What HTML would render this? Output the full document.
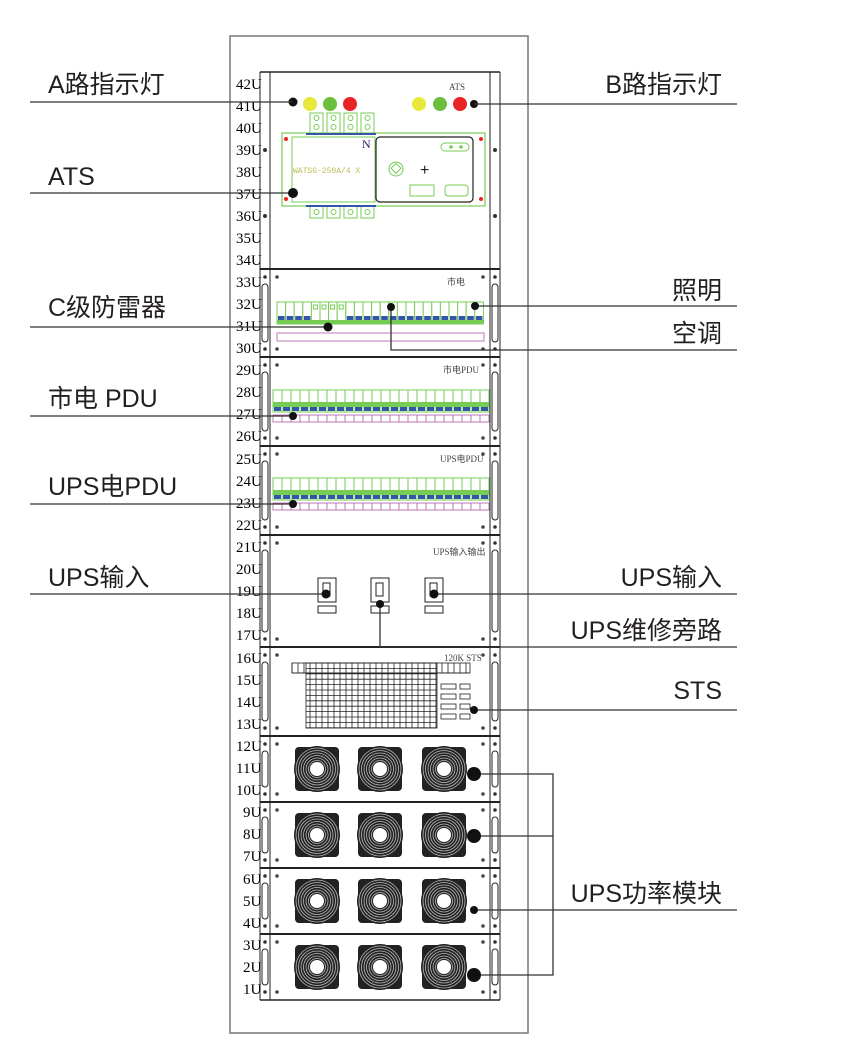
<!DOCTYPE html>
<html><head><meta charset="utf-8">
<style>
html,body{margin:0;padding:0;background:#fff;}
svg{display:block;}
.lbl{font-family:"Liberation Sans","Noto Sans CJK SC",sans-serif;font-size:25px;fill:#231f20;}
.u{font-family:"Liberation Serif","Noto Serif CJK SC",serif;font-size:15px;fill:#000;}
.sm{font-family:"Liberation Serif","Noto Sans CJK SC",serif;font-size:9px;fill:#444;}
</style></head><body>
<svg id="s" width="844" height="1042" viewBox="0 0 844 1042" xmlns="http://www.w3.org/2000/svg">
<rect x="230" y="36" width="298" height="997" fill="none" stroke="#777" stroke-width="1.5"/>
<g id="rack" stroke="#222" fill="none" stroke-width="1">
<line x1="260" y1="72" x2="260" y2="1000"/><line x1="270" y1="72" x2="270" y2="1000"/>
<line x1="490" y1="72" x2="490" y2="1000"/><line x1="500" y1="72" x2="500" y2="1000"/>
<line x1="260" y1="72" x2="500" y2="72" stroke-width="1.5"/>
<line x1="260" y1="1000" x2="500" y2="1000" stroke-width="1.5"/>
<line x1="260" y1="269" x2="500" y2="269" stroke-width="2"/>
<line x1="260" y1="357" x2="500" y2="357" stroke-width="2"/>
<line x1="260" y1="446" x2="500" y2="446" stroke-width="2"/>
<line x1="260" y1="535" x2="500" y2="535" stroke-width="2"/>
<line x1="260" y1="647" x2="500" y2="647" stroke-width="2"/>
<line x1="260" y1="736" x2="500" y2="736" stroke-width="2"/>
<line x1="260" y1="802" x2="500" y2="802" stroke-width="2"/>
<line x1="260" y1="868" x2="500" y2="868" stroke-width="2"/>
<line x1="260" y1="934" x2="500" y2="934" stroke-width="2"/>
</g>
<g id="ul">
<text class="u" x="236" y="89">42U</text><text class="u" x="236" y="111">41U</text><text class="u" x="236" y="133">40U</text>
<text class="u" x="236" y="155">39U</text><text class="u" x="236" y="177">38U</text><text class="u" x="236" y="199">37U</text>
<text class="u" x="236" y="221">36U</text><text class="u" x="236" y="243">35U</text><text class="u" x="236" y="265">34U</text>
<text class="u" x="236" y="287">33U</text><text class="u" x="236" y="309">32U</text><text class="u" x="236" y="331">31U</text>
<text class="u" x="236" y="353">30U</text><text class="u" x="236" y="375">29U</text><text class="u" x="236" y="397">28U</text>
<text class="u" x="236" y="419">27U</text><text class="u" x="236" y="441">26U</text><text class="u" x="236" y="464">25U</text>
<text class="u" x="236" y="486">24U</text><text class="u" x="236" y="508">23U</text><text class="u" x="236" y="530">22U</text>
<text class="u" x="236" y="552">21U</text><text class="u" x="236" y="574">20U</text><text class="u" x="236" y="596">19U</text>
<text class="u" x="236" y="618">18U</text><text class="u" x="236" y="640">17U</text><text class="u" x="236" y="663">16U</text>
<text class="u" x="236" y="685">15U</text><text class="u" x="236" y="707">14U</text><text class="u" x="236" y="729">13U</text>
<text class="u" x="236" y="751">12U</text><text class="u" x="236" y="773">11U</text><text class="u" x="236" y="795">10U</text>
<text class="u" x="243" y="817">9U</text><text class="u" x="243" y="839">8U</text><text class="u" x="243" y="861">7U</text>
<text class="u" x="243" y="884">6U</text><text class="u" x="243" y="906">5U</text><text class="u" x="243" y="928">4U</text>
<text class="u" x="243" y="950">3U</text><text class="u" x="243" y="972">2U</text><text class="u" x="243" y="994">1U</text>
</g>
<!-- ATS panel -->
<text class="sm" x="449" y="90">ATS</text>
<rect x="282" y="133" width="203" height="73" fill="none" stroke="#7c5" stroke-width="1.2"/>
<rect x="292" y="137" width="83" height="65" fill="none" stroke="#7c5"/>
<rect x="376" y="137" width="97" height="65" rx="4" fill="none" stroke="#222" stroke-width="1.2"/>
<rect x="441" y="143" width="28" height="8" rx="4" fill="none" stroke="#7c5"/>
<circle cx="451" cy="147" r="1.8" fill="#7c5"/><circle cx="461" cy="147" r="1.8" fill="#7c5"/>
<circle cx="396" cy="169" r="7" fill="none" stroke="#7c5"/>
<rect x="392" y="165" width="7" height="7" transform="rotate(45 396 169)" fill="none" stroke="#7c5"/>
<text x="420" y="175" font-size="16" font-family="Liberation Sans" fill="#222">+</text>
<rect x="410" y="185" width="24" height="11" fill="none" stroke="#7c5"/>
<rect x="445" y="185" width="23" height="11" rx="3" fill="none" stroke="#7c5"/>
<text x="293" y="173" font-size="8" font-family="Liberation Mono" fill="#bb5">WATSG-250A/4 X</text>
<text x="362" y="148" font-size="12" font-family="Liberation Serif" fill="#225">N</text>
<circle cx="286" cy="139" r="2" fill="#e22"/><circle cx="286" cy="199" r="2" fill="#e22"/>
<circle cx="481" cy="139" r="2" fill="#e22"/><circle cx="481" cy="199" r="2" fill="#e22"/>
<!-- lights -->
<circle cx="293" cy="102" r="4.5" fill="#111"/>
<circle cx="310" cy="104" r="7" fill="#e8e83a"/><circle cx="330" cy="104" r="7" fill="#6cbf3c"/><circle cx="350" cy="104" r="7" fill="#e82424"/>
<circle cx="419" cy="104" r="7" fill="#e8e83a"/><circle cx="440" cy="104" r="7" fill="#6cbf3c"/><circle cx="460" cy="104" r="7" fill="#e82424"/>
<circle cx="474" cy="104" r="4" fill="#111"/>
<!-- panel titles -->
<text class="sm" x="447" y="285">市电</text>
<text class="sm" x="443" y="373">市电PDU</text>
<text class="sm" x="440" y="462">UPS电PDU</text>
<text class="sm" x="433" y="555">UPS输入输出</text>
<text class="sm" x="444" y="661">120K STS</text>
<g id="gen"></g>
<!-- UPS input switches -->
<g fill="none" stroke="#222">
<rect x="318" y="578" width="18" height="24"/><rect x="323" y="583" width="7" height="13"/><rect x="318" y="606" width="18" height="7"/>
<rect x="371" y="578" width="18" height="24"/><rect x="376" y="583" width="7" height="13"/><rect x="371" y="606" width="18" height="7"/>
<rect x="425" y="578" width="18" height="24"/><rect x="430" y="583" width="7" height="13"/><rect x="425" y="606" width="18" height="7"/>
</g>
<!-- connectors -->
<g stroke="#333" stroke-width="1.3" fill="none">
<line x1="30" y1="102" x2="293" y2="102"/>
<line x1="30" y1="193" x2="293" y2="193"/>
<line x1="30" y1="327" x2="328" y2="327"/>
<line x1="30" y1="416" x2="293" y2="416"/>
<line x1="30" y1="504" x2="293" y2="504"/>
<line x1="30" y1="594" x2="326" y2="594"/>
<line x1="474" y1="104" x2="737" y2="104"/>
<line x1="475" y1="306" x2="737" y2="306"/>
<polyline points="391,308 391,350 737,350"/>
<line x1="434" y1="594" x2="737" y2="594"/>
<polyline points="380,604 380,647 737,647"/>
<line x1="474" y1="710" x2="737" y2="710"/>
<polyline points="474,774 553,774 553,975 474,975"/>
<line x1="474" y1="836" x2="553" y2="836"/>
<line x1="474" y1="910" x2="737" y2="910"/>
</g>
<g fill="#111">
<circle cx="293" cy="193" r="5"/><circle cx="328" cy="327" r="4.5"/><circle cx="293" cy="416" r="4"/>
<circle cx="293" cy="504" r="4"/><circle cx="326" cy="594" r="4.5"/><circle cx="434" cy="594" r="4.5"/>
<circle cx="380" cy="604" r="4"/><circle cx="475" cy="306" r="4"/><circle cx="391" cy="307" r="4"/>
<circle cx="474" cy="710" r="4"/><circle cx="474" cy="774" r="7"/><circle cx="474" cy="836" r="7"/>
<circle cx="474" cy="910" r="4"/><circle cx="474" cy="975" r="7"/>
</g>
<!-- labels -->
<text class="lbl" x="48" y="93">A路指示灯</text>
<text class="lbl" x="48" y="185">ATS</text>
<text class="lbl" x="48" y="316">C级防雷器</text>
<text class="lbl" x="48" y="407">市电 PDU</text>
<text class="lbl" x="48" y="495">UPS电PDU</text>
<text class="lbl" x="48" y="586">UPS输入</text>
<text class="lbl" x="722" y="93" text-anchor="end">B路指示灯</text>
<text class="lbl" x="722" y="299" text-anchor="end">照明</text>
<text class="lbl" x="722" y="342" text-anchor="end">空调</text>
<text class="lbl" x="722" y="586" text-anchor="end">UPS输入</text>
<text class="lbl" x="722" y="639" text-anchor="end">UPS维修旁路</text>
<text class="lbl" x="722" y="699" text-anchor="end">STS</text>
<text class="lbl" x="722" y="902" text-anchor="end">UPS功率模块</text>
</svg>
<script>
var NS="http://www.w3.org/2000/svg",g=document.getElementById("gen");
function el(t,a,p){var e=document.createElementNS(NS,t);for(var k in a)e.setAttribute(k,a[k]);(p||g).appendChild(e);return e;}
[310,327,344,361].forEach(function(x){
 el("rect",{x:x,y:113,width:13,height:20,fill:"none",stroke:"#7c5"});
 el("circle",{cx:x+6.5,cy:118,r:2.5,fill:"none",stroke:"#7c5"});
 el("circle",{cx:x+6.5,cy:127,r:2.5,fill:"none",stroke:"#7c5"});
 el("rect",{x:x,y:206,width:13,height:12,fill:"none",stroke:"#7c5"});
 el("circle",{cx:x+6.5,cy:212,r:2.5,fill:"none",stroke:"#7c5"});
});
el("line",{x1:306,y1:134,x2:376,y2:134,stroke:"#35a","stroke-width":2});
el("line",{x1:306,y1:206,x2:376,y2:206,stroke:"#35a","stroke-width":2});
var panels=[[72,269],[269,357],[357,446],[446,535],[535,647],[647,736],[736,802],[802,868],[868,934],[934,1000]];
panels.forEach(function(p,i){
 var a=p[0],b=p[1],h=b-a;
 [265,495].forEach(function(x){
  if(i==0){el("circle",{cx:x,cy:150,r:2,fill:"#333"});el("circle",{cx:x,cy:216,r:2,fill:"#333"});}
  else{
   el("circle",{cx:x,cy:a+8,r:1.8,fill:"#333"});el("circle",{cx:x,cy:b-8,r:1.8,fill:"#333"});
   el("rect",{x:x-3,y:a+15,width:6,height:h-30,rx:3,fill:"none",stroke:"#222"});
  }
 });
 if(i>0){[277,483].forEach(function(x){el("circle",{cx:x,cy:a+8,r:1.8,fill:"#444"});el("circle",{cx:x,cy:b-8,r:1.8,fill:"#444"});});}
});
for(var i=0;i<24;i++){var x=277+i*8.6;
 el("rect",{x:x,y:302,width:8.6,height:22,fill:"#fff",stroke:"#7c5"});
 if(i<4||i>7)el("rect",{x:x+1,y:316,width:6.6,height:4,fill:"#35a"});
 else el("rect",{x:x+2,y:305,width:4,height:4,fill:"none",stroke:"#7c5"});}
el("rect",{x:277,y:320,width:207,height:4,fill:"#7c5"});
el("rect",{x:277,y:333,width:207,height:8,fill:"none",stroke:"#b7b"});
[390,478].forEach(function(y){
 for(var i=0;i<24;i++){var x=273+i*9;
  el("rect",{x:x,y:y,width:9,height:22,fill:"#fff",stroke:"#7c5"});
  el("rect",{x:x,y:y+12,width:9,height:5,fill:"#7c5"});
  el("rect",{x:x+1,y:y+17,width:7,height:4,fill:"#35a"});
  el("rect",{x:x,y:y+25,width:9,height:7,fill:"#fff",stroke:"#b7b"});}
});
var s=el("g",{stroke:"#222","stroke-width":"0.8",fill:"none"});
el("rect",{x:292,y:663,width:178,height:10},s);
el("rect",{x:306,y:663,width:131,height:65},s);
for(var x=292;x<=470;x+=6)el("line",{x1:x,y1:663,x2:x,y2:(x<306||x>437)?673:728},s);
for(var y=663;y<=728;y+=5.4)el("line",{x1:306,y1:y,x2:437,y2:y},s);
el("line",{x1:292,y1:673,x2:470,y2:673},s);
for(var r=0;r<4;r++){el("rect",{x:441,y:684+r*10,width:15,height:5},s);el("rect",{x:460,y:684+r*10,width:10,height:5},s);}
[736,802,868,934].forEach(function(a){var cy=a+33;
 [317,380,444].forEach(function(cx){
  el("rect",{x:cx-22,y:cy-22,width:44,height:44,rx:4,fill:"#222"});
  el("circle",{cx:cx,cy:cy,r:23,fill:"#222"});
  for(var r=21;r>7;r-=2.5)el("circle",{cx:cx,cy:cy,r:r,fill:"none",stroke:"#bbb","stroke-width":"0.8"});
  el("circle",{cx:cx,cy:cy,r:7,fill:"#fff"});
 });
});
</script>
</body></html>
